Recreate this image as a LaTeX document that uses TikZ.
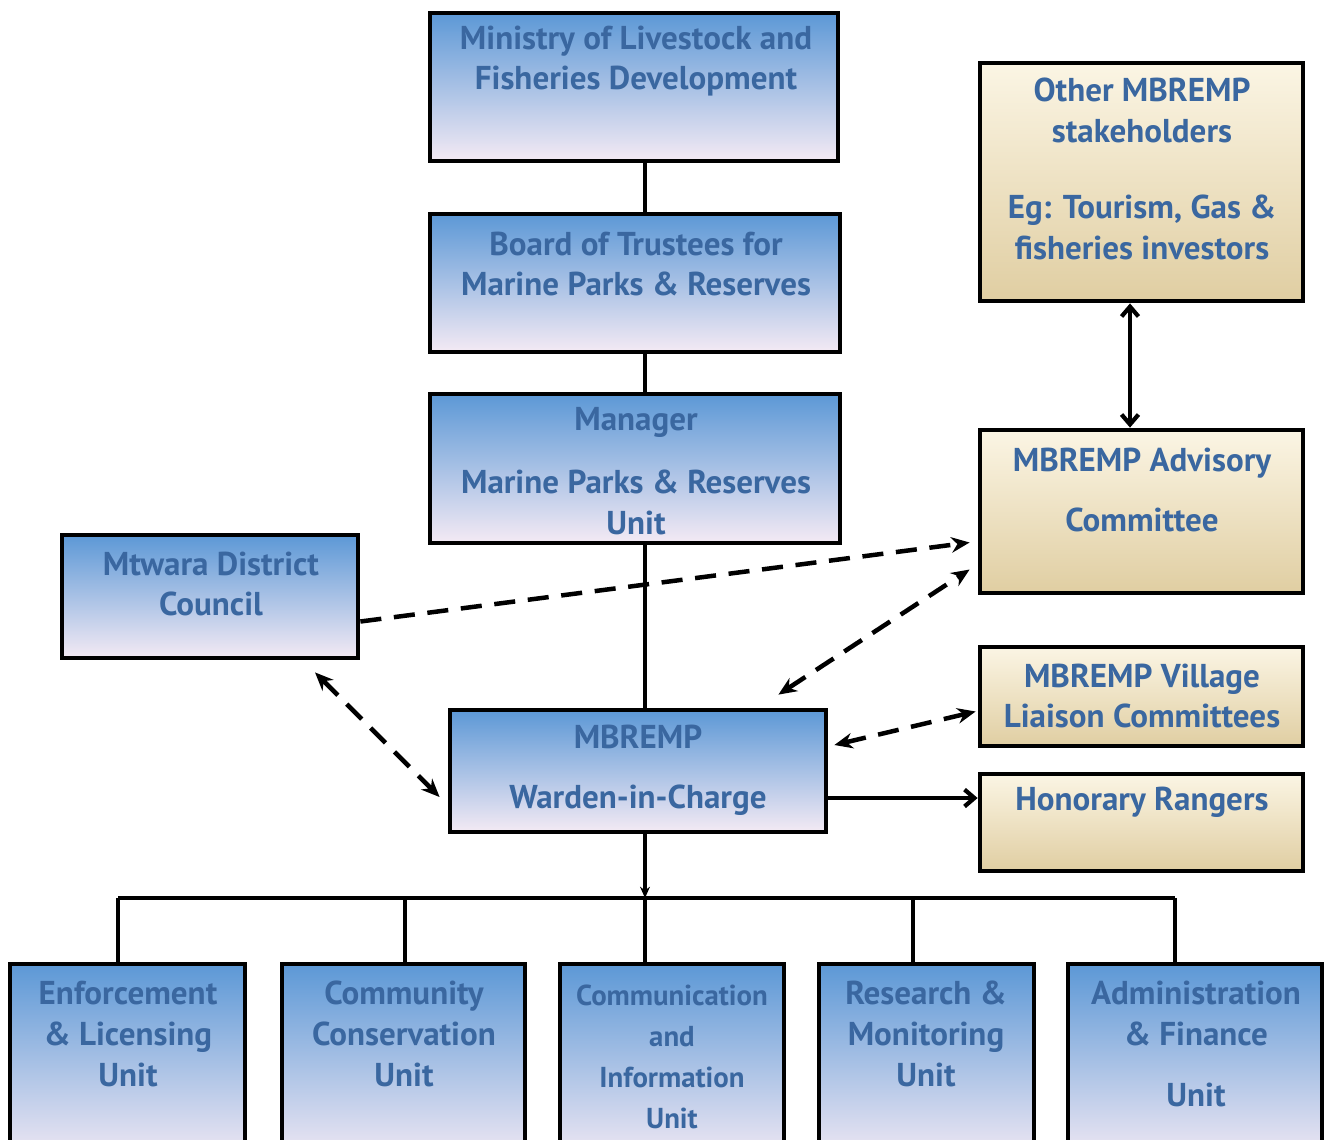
\documentclass[tikz,border=0pt]{standalone}
\usepackage{fontspec}
\setmainfont{PT Sans}
\usepackage{tikz}
\usetikzlibrary{calc,arrows.meta,positioning}

\definecolor{bluetop}{RGB}{92,152,214}
\definecolor{bluemid}{RGB}{160,200,237}
\definecolor{bluebot}{RGB}{244,234,244}
\definecolor{tantop}{RGB}{251,245,228}
\definecolor{tanmid}{RGB}{244,233,205}
\definecolor{tanbot}{RGB}{224,206,162}
\definecolor{txtblue}{RGB}{58,103,160}

\begin{document}
\begin{tikzpicture}[x=0.025cm, y=-0.025cm,
  bluebox/.style={draw=black, line width=3.4pt, top color=bluetop, middle color=bluemid, bottom color=bluebot},
  tanbox/.style={draw=black, line width=3.4pt, top color=tantop, middle color=tanmid, bottom color=tanbot},
  txt/.style={text=txtblue, font=\bfseries\fontsize{23.5}{29}\selectfont, align=center, inner sep=0pt},
  link/.style={line width=3pt},
  dashlink/.style={line width=3.2pt, dash pattern=on 15pt off 9pt},
  dashtip/.tip={Stealth[length=13pt,width=11pt]},
  solidtip/.tip={Straight Barb[length=7pt,width=12pt]}]

% Define lengths
\def\px{0.025cm}
\useasboundingbox (0,0) rectangle (1326,1139);

% Draw the main chain of boxes
\node[bluebox, minimum width=408*\px, minimum height=148*\px] (ministry) at (634,87) {};
\node[bluebox, minimum width=410*\px, minimum height=138*\px] (board) at (635,283) {};
\node[bluebox, minimum width=410*\px, minimum height=149*\px] (manager) at (635,468.5) {};
\node[bluebox, minimum width=296*\px, minimum height=123*\px] (mtwara) at (210,596.5) {};
\node[bluebox, minimum width=376*\px, minimum height=122*\px] (warden) at (638,771) {};

% Draw the boxes on the right
\node[tanbox, minimum width=323*\px, minimum height=238*\px] (other) at (1141.5,182) {};
\node[tanbox, minimum width=323*\px, minimum height=163*\px] (advisory) at (1141.5,511.5) {};
\node[tanbox, minimum width=323*\px, minimum height=99*\px] (village) at (1141.5,696.5) {};
\node[tanbox, minimum width=323*\px, minimum height=97*\px] (honorary) at (1141.5,822.5) {};

% Draw the units at the bottom
\node[bluebox, minimum width=235*\px, minimum height=200*\px] (enforce) at (127.5,1064) {};
\node[bluebox, minimum width=243*\px, minimum height=200*\px] (community) at (403.5,1064) {};
\node[bluebox, minimum width=224*\px, minimum height=200*\px] (comms) at (672,1064) {};
\node[bluebox, minimum width=215*\px, minimum height=200*\px] (research) at (926.5,1064) {};
\node[bluebox, minimum width=254*\px, minimum height=200*\px] (admin) at (1195,1064) {};

% Texts
\node[txt] (ministrytxt) at (636,61) {Ministry of Livestock and\\Fisheries Development};
\node[txt] (boardtxt) at (636,264) {Board of Trustees for\\Marine Parks \& Reserves};
\node[txt] (managertxt) at (636,471) {Manager\\[16pt]Marine Parks \& Reserves\\Unit};
\node[txt] (mtwaratxt) at (211,584) {Mtwara District\\Council};
\node[txt] (wardentxt) at (638,770) {MBREMP\\[14pt]Warden-in-Charge};
\node[txt] (othertxt) at (1142,169) {Other MBREMP\\stakeholders\\[25pt]Eg: Tourism, Gas \&\\fisheries investors};
\node[txt] (advisorytxt) at (1142,490) {MBREMP Advisory\\[14pt]Committee};
\node[txt] (villagetxt) at (1142,696) {MBREMP Village\\Liaison Committees};
\node[txt] (honorarytxt) at (1142,802) {Honorary Rangers};
\node[txt] (enforcetxt) at (128,1034) {Enforcement\\\& Licensing\\Unit};
\node[txt] (communitytxt) at (404,1034) {Community\\Conservation\\Unit};
\node[txt, font=\bfseries\fontsize{20.5}{29}\selectfont] (commstxt) at (672,1057) {Communication\\and\\Information\\Unit};
\node[txt] (researchtxt) at (926,1034) {Research \&\\Monitoring\\Unit};
\node[txt] (admintxt) at (1196,1044) {Administration\\\& Finance\\[14pt]Unit};

% Draw the trunk line
\coordinate (trunk) at (645,0);
\draw[link] (ministry.south -| trunk) -- (board.north -| trunk);
\draw[link] (board.south -| trunk) -- (manager.north -| trunk);
\draw[link] (manager.south -| trunk) -- (warden.north -| trunk);

% Draw the bus to the units
\coordinate (busL) at (118,898);
\coordinate (busR) at (1175,898);
\draw[link, -{Stealth[length=8pt,width=7pt]}] (warden.south -| trunk) -- (busL -| trunk);
\draw[link] (busL) -- (busR);
\foreach \unitname/\dropx in {enforce/118, community/405, comms/645, research/913, admin/1175}
  \draw[link] (\dropx,898) -- (\dropx,898 |- \unitname.north);

% Dashed links
\draw[dashlink, -{dashtip}] ([yshift=-25*\px]mtwara.east) -- ([xshift=-8*\px, yshift=-31*\px]advisory.west);
\draw[dashlink, {dashtip}-{dashtip}] ([xshift=-50*\px, yshift=13*\px]warden.north east) -- ([xshift=-8*\px, yshift=-58*\px]advisory.west);
\draw[dashlink, {dashtip}-{dashtip}] ([xshift=105*\px, yshift=-12*\px]mtwara.south) -- ([xshift=-8*\px, yshift=-26*\px]warden.west);
\draw[dashlink, {dashtip}-{dashtip}] ([xshift=6*\px, yshift=26*\px]warden.east) -- ([xshift=-2*\px, yshift=-15*\px]village.west);

% Solid arrows
\draw[link, -{solidtip}] ([yshift=-27*\px]warden.east) -- ([yshift=24.5*\px]honorary.west);
\draw[link, {solidtip}-{solidtip}] ([xshift=-11.5*\px]other.south) -- ([xshift=-11.5*\px]advisory.north);

\end{tikzpicture}
\end{document}
